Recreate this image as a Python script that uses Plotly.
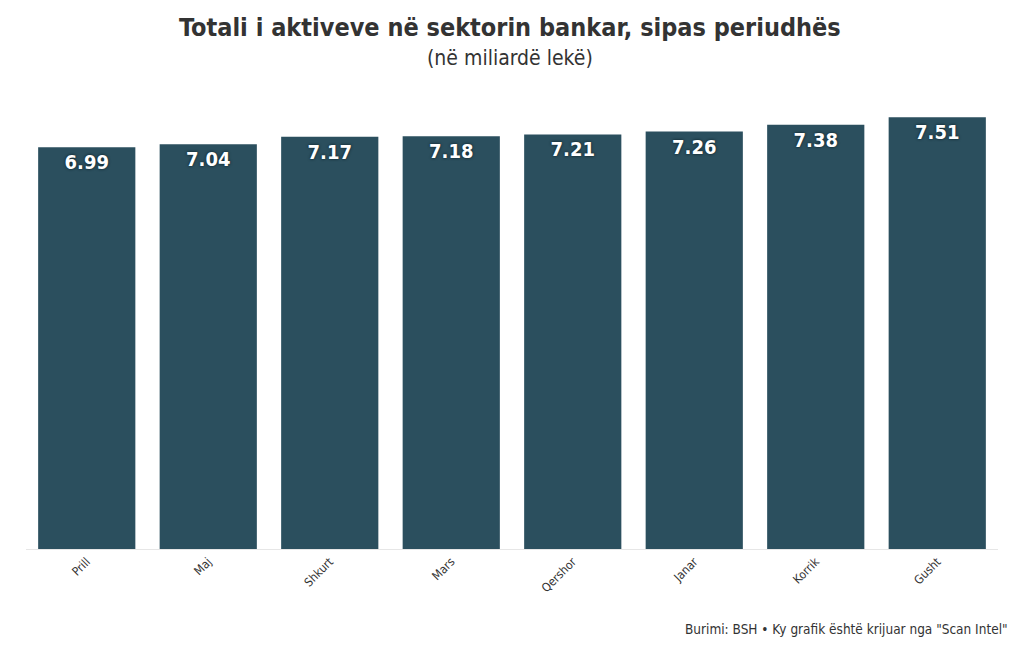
import plotly.graph_objects as go

# Data
months = ["Prill", "Maj", "Shkurt", "Mars", "Qershor", "Janar", "Korrik", "Gusht"]
values = [6.99, 7.04, 7.17, 7.18, 7.21, 7.26, 7.38, 7.51]

bar_color = "#2b4f5e"
font_main = "DejaVu Sans Condensed, Liberation Sans Narrow, sans-serif"

# page body has an 8px margin, so figure coords are screen coords minus 8
W, H = 1020, 650
L, R, T, B = 18, 30, 92, 109

fig = go.Figure()
fig.add_trace(go.Bar(
    x=months, y=values,
    marker=dict(color=bar_color, line=dict(width=0)),
    text=[f"{v:.2f}" for v in values],
    textposition="inside",
    insidetextanchor="end",
    textangle=0,
    textfont=dict(family=font_main, size=20, color="white", weight="bold",
                  shadow="0px 0px 3px #081a21"),
    hoverinfo="x+y",
))


def pos(px, py):
    # screen pixel -> paper coords
    return (px - 8 - L) / (W - L - R), (H - B - (py - 8)) / (H - T - B)


x1, y1 = pos(510, 28)
x2, y2 = pos(510, 58)
x3, y3 = pos(1010, 629)

fig.update_layout(
    width=W, height=H,
    paper_bgcolor="white", plot_bgcolor="white",
    margin=dict(l=L, r=R, t=T, b=B),
    bargap=0.2,
    showlegend=False,
    font=dict(family=font_main, color="#333333"),
    annotations=[
        dict(text="<b>Totali i aktiveve në sektorin bankar, sipas periudhës</b>",
             x=x1, y=y1, xref="paper", yref="paper", showarrow=False, yanchor="middle",
             font=dict(size=25, color="#333333")),
        dict(text="(në miliardë lekë)",
             x=x2, y=y2, xref="paper", yref="paper", showarrow=False, yanchor="middle",
             font=dict(size=21, color="#333333")),
        dict(text='Burimi: BSH • Ky grafik është krijuar nga "Scan Intel"',
             x=x3, y=y3, xref="paper", yref="paper", showarrow=False,
             xanchor="right", yanchor="middle",
             font=dict(size=13.5, color="#333333")),
    ],
)

fig.update_xaxes(
    tickangle=-45, showgrid=False, showline=True, linecolor="#e6e6e6",
    tickfont=dict(size=12, color="#333333", family=font_main),
    ticks="", fixedrange=True,
)
fig.update_yaxes(
    range=[0, 7.81], visible=False, showgrid=False, fixedrange=True,
)

fig.write_html("out.html")
